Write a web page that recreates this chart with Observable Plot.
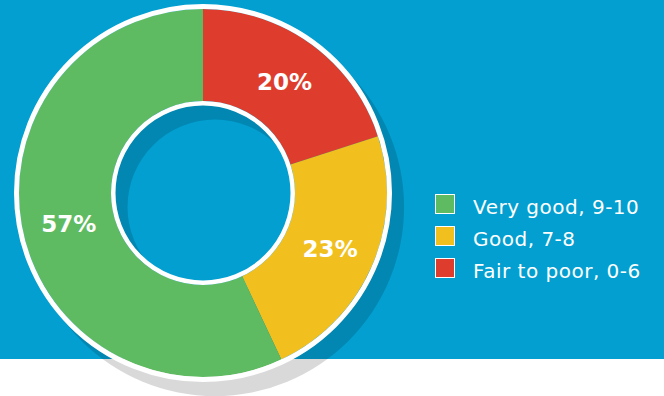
<!DOCTYPE html>
<html>
<head>
<meta charset="utf-8">
<script src="https://cdn.jsdelivr.net/npm/d3@7"></script>
<script src="https://cdn.jsdelivr.net/npm/@observablehq/plot@0.6"></script>
<style>
  html, body { margin: 0; padding: 0; }
  #wrap { position: relative; width: 664px; height: 396px; overflow: hidden;
          background: linear-gradient(to bottom, #029fd0 0px, #029fd0 359px, #ffffff 359px); }
  #legend { position: absolute; left: 435px; top: 194px; font-family: "DejaVu Sans", sans-serif;
            color: #ffffff; font-size: 20px; letter-spacing: 0.5px; }
  .row { display: flex; align-items: flex-start; height: 32px; }
  .sw { width: 20px; height: 20px; box-sizing: border-box; border: 1.5px solid #ffffff; margin-right: 18px; flex: none; }
  .lab { line-height: 20px; margin-top: 3px; white-space: nowrap; }
</style>
</head>
<body>
<div id="wrap"><div id="chart"></div><div id="legend"></div></div>
<script>
// Data (legend order)
const categories = ["Very good, 9-10", "Good, 7-8", "Fair to poor, 0-6"];
const values = [57, 23, 20];
const colors = ["#5fbb61", "#f1bf1e", "#de3d2e"];

// Slices drawn clockwise from 12 o'clock: red, yellow, green
const data = categories.map((c, i) => ({category: c, value: values[i], color: colors[i]})).reverse();
const innerFrac = 0.5;

const arcs = d3.pie().sort(null).value(d => d.value)(data);
const midR = (innerFrac + 1) / 2;
const labels = arcs.map(a => {
  const m = (a.startAngle + a.endAngle) / 2;
  return {x: midR * Math.sin(m), y: midR * Math.cos(m), text: a.data.value + "%"};
});

const R = 184, CX = 203, CY = 193;

const donut = (index, scales) => {
  const {x, y} = scales;
  const cx = x(0), cy = y(0), r = x(1) - x(0), ri = r * innerFrac;
  const g = d3.create("svg:g");
  // drop shadow
  g.append("path")
    .attr("transform", `translate(${cx + 12},${cy + 14})`)
    .attr("d", d3.arc()({innerRadius: ri - 4.5, outerRadius: r + 5, startAngle: 0, endAngle: 2 * Math.PI}))
    .attr("fill", "#000").attr("fill-opacity", 0.15);
  const arc = d3.arc().innerRadius(ri).outerRadius(r);
  g.append("g").attr("transform", `translate(${cx},${cy})`)
    .selectAll("path").data(arcs).join("path")
    .attr("d", arc).attr("fill", d => d.data.color);
  g.append("circle").attr("cx", cx).attr("cy", cy).attr("r", r + 2.5)
    .attr("fill", "none").attr("stroke", "#fff").attr("stroke-width", 5);
  g.append("circle").attr("cx", cx).attr("cy", cy).attr("r", ri - 2.25)
    .attr("fill", "none").attr("stroke", "#fff").attr("stroke-width", 4.5);
  return g.node();
};

const chart = Plot.plot({
  width: 664,
  height: 396,
  margin: 0,
  style: {background: "transparent", overflow: "visible"},
  x: {domain: [-1, 1], range: [CX - R, CX + R], axis: null},
  y: {domain: [-1, 1], range: [CY + R, CY - R], axis: null},
  marks: [
    donut,
    Plot.text(labels, {x: "x", y: "y", text: "text", fill: "#fff", fontSize: 23, fontWeight: "bold",
      fontFamily: "DejaVu Sans, sans-serif", textAnchor: "middle", dy: 1})
  ]
});
document.getElementById("chart").appendChild(chart);

const legend = document.getElementById("legend");
categories.forEach((c, i) => {
  const row = document.createElement("div");
  row.className = "row";
  const sw = document.createElement("div");
  sw.className = "sw"; sw.style.background = colors[i];
  const lab = document.createElement("div");
  lab.className = "lab"; lab.textContent = c;
  row.appendChild(sw); row.appendChild(lab);
  legend.appendChild(row);
});
</script>
</body>
</html>
